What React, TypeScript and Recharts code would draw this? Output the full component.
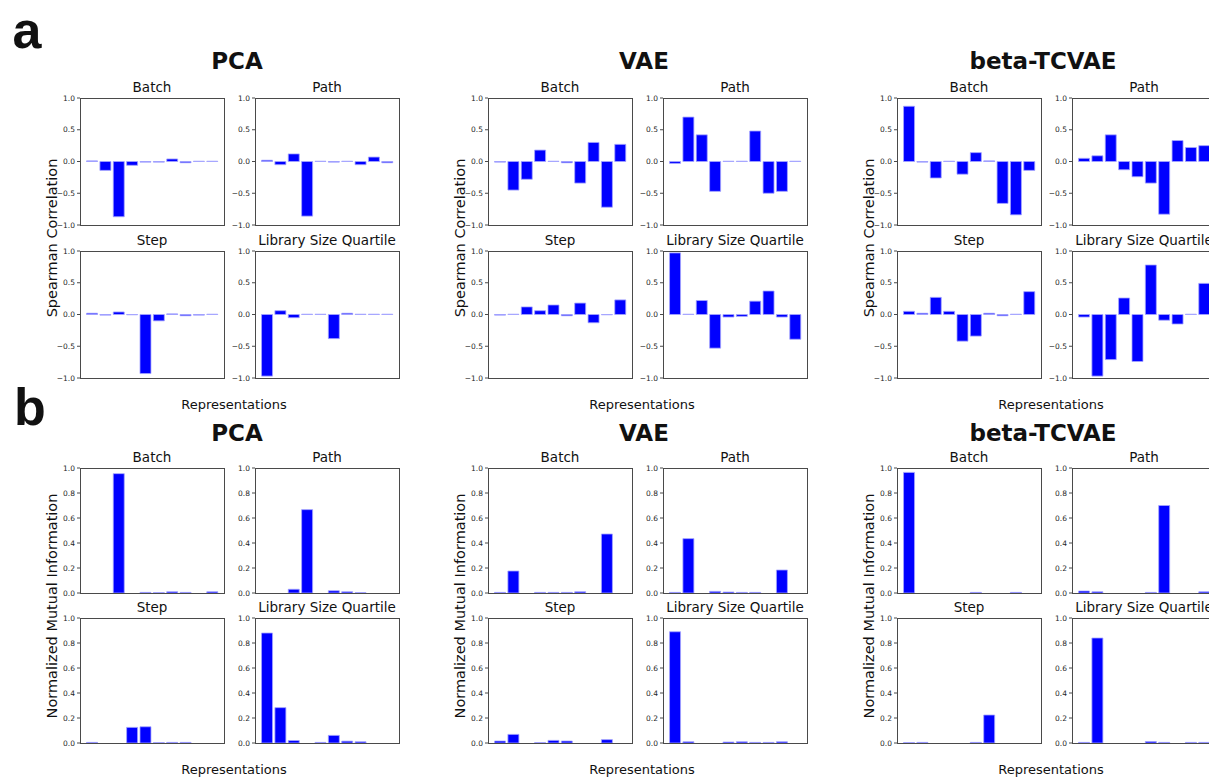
import React from 'react'
import { BarChart, Bar, XAxis, YAxis } from 'recharts'

const representations = ['z1', 'z2', 'z3', 'z4', 'z5', 'z6', 'z7', 'z8', 'z9', 'z10']
const factors = ['Batch', 'Path', 'Step', 'Library Size Quartile']
const methods = ['PCA', 'VAE', 'beta-TCVAE']
const corrTicks = [-1, -0.5, 0, 0.5, 1]
const miTicks = [0, 0.2, 0.4, 0.6, 0.8, 1]

// a: Spearman correlation
const pcaBatchCorr = [0.01, -0.14, -0.87, -0.06, -0.01, -0.01, 0.04, -0.02, 0.005, 0.005]
const pcaPathCorr = [0.02, -0.05, 0.12, -0.86, 0.005, -0.01, 0.005, -0.05, 0.07, -0.02]
const pcaStepCorr = [0.02, -0.01, 0.04, -0.005, -0.93, -0.1, 0.01, -0.02, -0.01, 0.005]
const pcaLibCorr = [-0.97, 0.06, -0.05, 0.005, 0.005, -0.38, 0.02, 0.005, 0.005, 0.005]

const vaeBatchCorr = [-0.01, -0.45, -0.28, 0.18, 0.005, -0.02, -0.34, 0.3, -0.72, 0.27]
const vaePathCorr = [-0.03, 0.7, 0.42, -0.47, 0.005, 0.005, 0.48, -0.5, -0.47, 0.005]
const vaeStepCorr = [-0.01, 0.005, 0.12, 0.06, 0.15, -0.02, 0.18, -0.13, -0.005, 0.23]
const vaeLibCorr = [0.97, 0.005, 0.22, -0.53, -0.04, -0.03, 0.21, 0.37, -0.04, -0.39]

const tcBatchCorr = [0.87, -0.01, -0.26, 0.005, -0.2, 0.14, 0.01, -0.66, -0.84, -0.14]
const tcPathCorr = [0.05, 0.09, 0.42, -0.13, -0.24, -0.34, -0.83, 0.33, 0.22, 0.25]
const tcStepCorr = [0.05, 0.02, 0.27, 0.05, -0.42, -0.34, 0.02, -0.02, 0.005, 0.36]
const tcLibCorr = [-0.04, -0.97, -0.71, 0.26, -0.74, 0.78, -0.09, -0.15, 0.005, 0.49]

// b: normalized mutual information
const pcaBatchMi = [0, 0, 0.955, 0, 0.005, 0.003, 0.01, 0.005, 0, 0.01]
const pcaPathMi = [0, 0, 0.03, 0.667, 0, 0.018, 0.01, 0.003, 0, 0]
const pcaStepMi = [0.005, 0, 0, 0.125, 0.13, 0.003, 0.005, 0.005, 0, 0]
const pcaLibMi = [0.88, 0.283, 0.02, 0, 0.005, 0.061, 0.015, 0.01, 0, 0]

const vaeBatchMi = [0.005, 0.176, 0, 0.005, 0.005, 0.005, 0.01, 0, 0.472, 0]
const vaePathMi = [0.005, 0.435, 0, 0.013, 0.008, 0.005, 0.005, 0, 0.184, 0]
const vaeStepMi = [0.016, 0.069, 0, 0.003, 0.021, 0.016, 0, 0, 0.027, 0]
const vaeLibMi = [0.89, 0.01, 0, 0, 0.008, 0.01, 0.005, 0.005, 0.01, 0]

const tcBatchMi = [0.965, 0, 0, 0, 0, 0.005, 0, 0, 0.005, 0]
const tcPathMi = [0.016, 0.01, 0, 0, 0, 0.005, 0.7, 0, 0, 0.01]
const tcStepMi = [0.003, 0.005, 0, 0, 0, 0.005, 0.224, 0, 0, 0]
const tcLibMi = [0.005, 0.84, 0, 0, 0, 0.012, 0.005, 0, 0.005, 0.005]

const corrByMethod = [
  [pcaBatchCorr, pcaPathCorr, pcaStepCorr, pcaLibCorr],
  [vaeBatchCorr, vaePathCorr, vaeStepCorr, vaeLibCorr],
  [tcBatchCorr, tcPathCorr, tcStepCorr, tcLibCorr],
]
const miByMethod = [
  [pcaBatchMi, pcaPathMi, pcaStepMi, pcaLibMi],
  [vaeBatchMi, vaePathMi, vaeStepMi, vaeLibMi],
  [tcBatchMi, tcPathMi, tcStepMi, tcLibMi],
]

const FONT = '"DejaVu Sans", sans-serif'
const BOX_W = 144
const YW = 30
const PAD = 7
const methodLeft = [80, 488, 897]
const COL_STEP = 175
const frame = '#4a4a4a'

const fmt = (v: number) => v.toFixed(1).replace('-', '\u2212')

function Panel({ title, values, left, top, boxH, ticks, domain }: {
  title: string
  values: number[]
  left: number
  top: number
  boxH: number
  ticks: number[]
  domain: [number, number]
}) {
  const data = representations.map((r, i) => ({ rep: r, v: values[i] }))
  return (
    <>
      <div style={{
        position: 'absolute', left: left - 20, width: BOX_W + 40, top: top - 19, textAlign: 'center',
        fontFamily: FONT, fontSize: 13.5, color: '#111', lineHeight: '16px', whiteSpace: 'nowrap',
      }}>{title}</div>
      <div style={{ position: 'absolute', left: left - YW, top: top - PAD }}>
        <BarChart width={YW + BOX_W + PAD} height={boxH + 2 * PAD} data={data}
          margin={{ top: PAD, right: PAD, bottom: PAD, left: 0 }} barCategoryGap="10%">
          <XAxis dataKey="rep" height={0} tick={false} tickLine={false} axisLine={false}
            padding={{ left: 5.2, right: 5.2 }} />
          <YAxis type="number" domain={domain} ticks={ticks} width={YW} allowDataOverflow
            tickFormatter={fmt} tickSize={3} tickMargin={2} interval={0}
            tick={{ fontSize: 7.5, fill: '#262626', fontFamily: FONT }}
            tickLine={{ stroke: frame }} axisLine={false} />
          <Bar dataKey="v" fill="#0000ff" stroke="#a6a6ff" strokeWidth={0.8} isAnimationActive={false} />
        </BarChart>
      </div>
      <div style={{
        position: 'absolute', left: left - 0.5, top: top - 0.5, width: BOX_W + 1, height: boxH + 1,
        border: `1px solid ${frame}`, boxSizing: 'border-box', pointerEvents: 'none',
      }} />
    </>
  )
}

function Text({ x, y, size, bold, children, rotate, family }: {
  x: number; y: number; size: number; bold?: boolean; children: React.ReactNode; rotate?: boolean; family?: string
}) {
  return (
    <div style={{
      position: 'absolute', left: x, top: y, whiteSpace: 'nowrap',
      transform: `translate(-50%, -50%)${rotate ? ' rotate(-90deg)' : ''}`,
      fontFamily: family || FONT, fontSize: size, fontWeight: bold ? 'bold' : 'normal',
      color: '#111', lineHeight: 1,
    }}>{children}</div>
  )
}

function Section({ rowTops, boxH, values, ticks, domain, yLabel, titleY, repY, yLabelY }: {
  rowTops: number[]; boxH: number; values: number[][][]; ticks: number[]; domain: [number, number]
  yLabel: string; titleY: number; repY: number; yLabelY: number
}) {
  const titleX = [237, 644, 1043]
  return (
    <>
      {methods.map((m, mi) => (
        <React.Fragment key={m}>
          <Text x={titleX[mi]} y={titleY} size={23} bold>{m}</Text>
          <Text x={methodLeft[mi] - 28} y={yLabelY} size={14.5} rotate>{yLabel}</Text>
          <Text x={methodLeft[mi] + 154} y={repY} size={13}>Representations</Text>
          {factors.map((f, fi) => (
            <Panel key={f} title={f} values={values[mi][fi]}
              left={methodLeft[mi] + (fi % 2) * COL_STEP}
              top={rowTops[Math.floor(fi / 2)]}
              boxH={boxH} ticks={ticks} domain={domain} />
          ))}
        </React.Fragment>
      ))}
    </>
  )
}

export default function App() {
  return (
    <div style={{ position: 'absolute', left: 0, top: 0, width: 1209, height: 778, overflow: 'hidden', background: '#fff' }}>
      <Text x={27} y={30} size={52} bold family='"Liberation Sans", Arial, sans-serif'>a</Text>
      <Text x={30} y={407} size={52} bold family='"Liberation Sans", Arial, sans-serif'>b</Text>
      <Section rowTops={[98, 251]} boxH={127} values={corrByMethod} ticks={corrTicks} domain={[-1, 1]}
        yLabel="Spearman Correlation" titleY={61} repY={404} yLabelY={238} />
      <Section rowTops={[468, 618]} boxH={125} values={miByMethod} ticks={miTicks} domain={[0, 1]}
        yLabel="Normalized Mutual Information" titleY={433} repY={769} yLabelY={606} />
    </div>
  )
}
